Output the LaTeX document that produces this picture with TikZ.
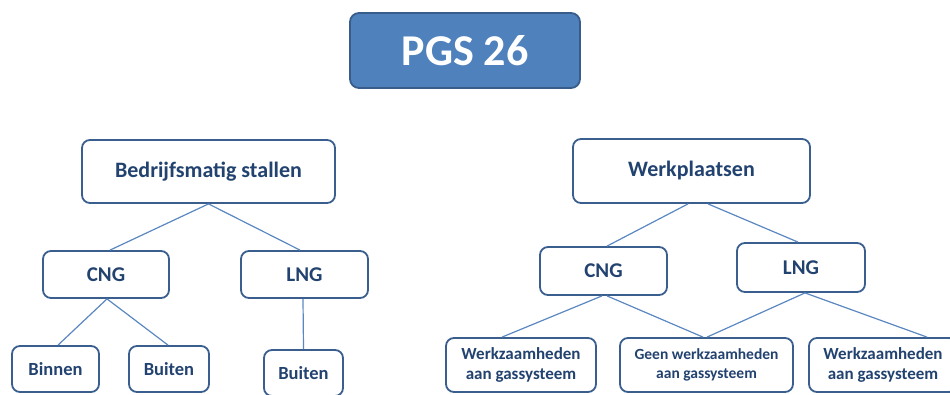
\documentclass[tikz,border=0pt]{standalone}
\usepackage{fontspec}
\setmainfont{Carlito}
\definecolor{txtblue}{HTML}{22426F}
\definecolor{bordblue}{HTML}{3A5F8F}
\definecolor{linkblue}{HTML}{5B87C0}
\definecolor{titlefill}{HTML}{4F81BD}
\definecolor{titlebord}{HTML}{385D8A}
\begin{document}
\begin{tikzpicture}[x=1pt,y=-1pt,
  box/.style={draw=bordblue,line width=1.8pt,rounded corners=8pt,fill=white,
    text=txtblue,font=\bfseries\fontsize{21}{24}\selectfont,align=center,inner sep=0pt},
  bigbox/.style={box,font=\bfseries\fontsize{22}{26}\selectfont},
  smallbox/.style={box,font=\bfseries\fontsize{18.5}{22}\selectfont},
  tinybox/.style={box,font=\bfseries\fontsize{17}{19.5}\selectfont},
  link/.style={draw=linkblue,line width=1.2pt}]
\useasboundingbox (0,0) rectangle (950,394);
\clip (0,0) rectangle (950,394);
% title
\node[draw=titlebord,line width=1.8pt,rounded corners=9pt,fill=titlefill,text=white,
  font=\bfseries\fontsize{44}{50}\selectfont,minimum width=230pt,minimum height=75pt,inner sep=0pt]
  (pgs) at (465,50.5) {PGS 26};
% left tree
\node[bigbox,minimum width=253pt,minimum height=63pt] (bs) at (208.5,171.5) {Bedrijfsmatig stallen};
\node[box,minimum width=126pt,minimum height=47pt] (cngL) at (106,274.5) {CNG};
\node[box,minimum width=127pt,minimum height=47pt] (lngL) at (304.5,274.5) {LNG};
\node[smallbox,minimum width=87pt,minimum height=46pt] (binnen) at (55.5,369) {Binnen};
\node[smallbox,minimum width=80pt,minimum height=46pt] (buitenA) at (169,369) {Buiten};
\node[smallbox,minimum width=79pt,minimum height=46pt] (buitenB) at (303.5,373) {Buiten};
% right tree
\node[bigbox,minimum width=237pt,minimum height=64pt] (wp) at (691.5,171) {Werkplaatsen};
\node[box,minimum width=127pt,minimum height=48pt] (cngR) at (603.5,271) {CNG};
\node[box,minimum width=128pt,minimum height=49pt] (lngR) at (801,267.5) {LNG};
\node[tinybox,minimum width=150pt,minimum height=54pt] (w1) at (521,365) {Werkzaamheden\\aan gassysteem};
\node[tinybox,minimum width=173pt,minimum height=54pt,font=\fontsize{15.5}{19}\selectfont\bfseries] (geen) at (706.5,365) {Geen werkzaamheden\\aan gassysteem};
\node[tinybox,minimum width=148pt,minimum height=54pt] (w2) at (883,365) {Werkzaamheden\\aan gassysteem};
% connectors left
\draw[link] (bs.south) -- ([xshift=4pt]cngL.north);
\draw[link] (bs.south) -- ([xshift=-4.5pt]lngL.north);
\draw[link] ([xshift=1pt]cngL.south) -- ([xshift=2.5pt]binnen.north);
\draw[link] ([xshift=1pt]cngL.south) -- ([xshift=-1pt]buitenA.north);
\draw[link] ([xshift=-1.5pt]lngL.south) -- (buitenB.north);
% connectors right
\draw[link] ([xshift=-3.5pt]wp.south) -- ([xshift=3.5pt]cngR.north);
\draw[link] ([xshift=16.5pt]wp.south) -- ([xshift=-3pt]lngR.north);
\draw[link] ([xshift=-1.5pt]cngR.south) -- ([xshift=-19pt]w1.north);
\draw[link] ([xshift=3.5pt]cngR.south) -- ([xshift=-3.5pt]geen.north);
\draw[link] ([xshift=4pt]lngR.south) -- ([xshift=0.5pt]geen.north);
\draw[link] ([xshift=4pt]lngR.south) -- ([xshift=44pt]w2.north);
\end{tikzpicture}
\end{document}
